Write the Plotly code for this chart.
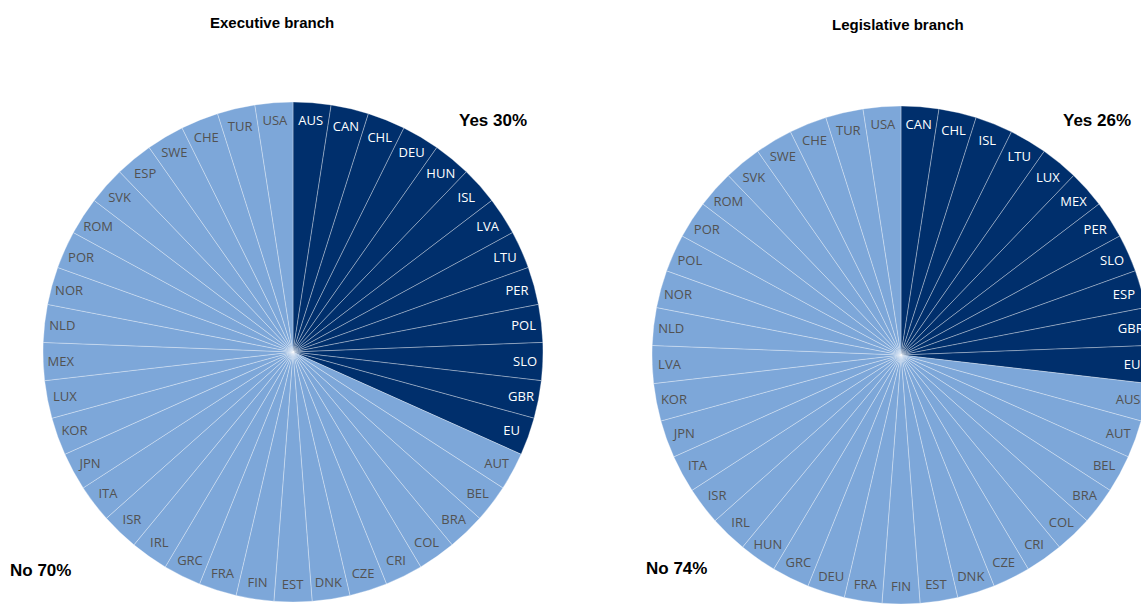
import plotly.graph_objects as go

# Executive branch: countries answering "Yes" then "No" (clockwise from 12 o'clock)
exec_yes = ["AUS", "CAN", "CHL", "DEU", "HUN", "ISL", "LVA", "LTU", "PER", "POL", "SLO", "GBR", "EU"]
exec_no = ["AUT", "BEL", "BRA", "COL", "CRI", "CZE", "DNK", "EST", "FIN", "FRA", "GRC", "IRL", "ISR",
           "ITA", "JPN", "KOR", "LUX", "MEX", "NLD", "NOR", "POR", "ROM", "SVK", "ESP", "SWE", "CHE",
           "TUR", "USA"]

# Legislative branch
leg_yes = ["CAN", "CHL", "ISL", "LTU", "LUX", "MEX", "PER", "SLO", "ESP", "GBR", "EU"]
leg_no = ["AUS", "AUT", "BEL", "BRA", "COL", "CRI", "CZE", "DNK", "EST", "FIN", "FRA", "DEU", "GRC",
          "HUN", "IRL", "ISR", "ITA", "JPN", "KOR", "LVA", "NLD", "NOR", "POL", "POR", "ROM", "SVK",
          "SWE", "CHE", "TUR", "USA"]

titles = ["Executive branch", "Legislative branch"]
yes_text = ["Yes 30%", "Yes 26%"]
no_text = ["No 70%", "No 74%"]

DARK = "#002F6C"
LIGHT = "#7DA7D9"
TXT_LIGHT = "#525252"

W, H = 1160, 605


def pie(yes, no, x0, x1, y0, y1):
    labels = yes + no
    values = [1] * len(labels)  # each country counts once
    colors = [DARK] * len(yes) + [LIGHT] * len(no)
    tcolors = ["white"] * len(yes) + [TXT_LIGHT] * len(no)
    return go.Pie(
        labels=labels, values=values, sort=False, direction="clockwise", rotation=0,
        marker=dict(colors=colors, line=dict(color="rgba(255,255,255,0.45)", width=0.7)),
        textinfo="label", textposition="inside", insidetextorientation="horizontal",
        textfont=dict(family="Open Sans", size=13, color=tcolors),
        domain=dict(x=[x0 / W, x1 / W], y=[(H - y1) / H, (H - y0) / H]),
        showlegend=False, hoverinfo="label",
    )


fig = go.Figure()
fig.add_trace(pie(exec_yes, exec_no, 43, 543, 102, 602))
fig.add_trace(pie(leg_yes, leg_no, 652, 1150, 106, 604))

bold = "Liberation Sans, Arial, sans-serif"
ann = []
for txt, x, y in [(titles[0], 272, 23), (titles[1], 898, 24)]:
    ann.append(dict(text="<b>%s</b>" % txt, x=x / W, y=(H - y) / H, xref="paper", yref="paper",
                    showarrow=False, xanchor="center", yanchor="middle",
                    font=dict(family=bold, size=15, color="black")))
for txt, x, y in [(yes_text[0], 493, 120), (no_text[0], 40, 570),
                  (yes_text[1], 1097, 120), (no_text[1], 676, 568)]:
    ann.append(dict(text="<b>%s</b>" % txt, x=x / W, y=(H - y) / H, xref="paper", yref="paper",
                    showarrow=False, xanchor="center", yanchor="middle",
                    font=dict(family=bold, size=17, color="black")))

fig.update_layout(width=W, height=H, margin=dict(l=0, r=0, t=0, b=0),
                  paper_bgcolor="white", plot_bgcolor="white", annotations=ann)

fig.write_html("out.html", post_script="document.body.style.overflow='hidden';document.body.style.margin='0';")
